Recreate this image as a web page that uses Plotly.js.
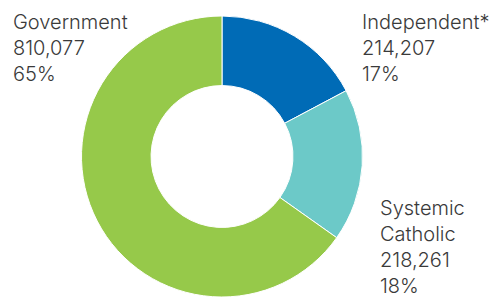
<!DOCTYPE html>
<html>
<head>
<meta charset="utf-8">
<script src="https://cdn.plot.ly/plotly-3.0.1.min.js"></script>
<style>html,body{margin:0;padding:0;background:#fff;}#chart{width:501px;height:300px;}</style>
</head>
<body>
<div id="chart"></div>
<script>
const categories = ["Independent*", "Systemic Catholic", "Government"];
const labelLines = [["Independent*"], ["Systemic", "Catholic"], ["Government"]];
const values = [214207, 218261, 810077];
const colors = ["#006bb6", "#6cc9c8", "#96c94a"];

const total = values.reduce((a, b) => a + b, 0);
const fmt = v => v.toLocaleString("en-US");
const pct = v => Math.round(v / total * 100) + "%";

const annPos = [
  {x: 360 / 501, y: 1 - 8 / 300},
  {x: 378 / 501, y: 1 - 194 / 300},
  {x: 11 / 501, y: 1 - 8 / 300}
];

const annotations = categories.map((c, i) => ({
  xref: "paper", yref: "paper",
  x: annPos[i].x, y: annPos[i].y,
  xanchor: "left", yanchor: "top", align: "left",
  showarrow: false,
  text: labelLines[i].concat([fmt(values[i]), pct(values[i])]).join("<br>"),
  font: {family: "Inter", size: 20, color: "#3a3a3a", weight: 300}
}));

const data = [{
  type: "pie",
  labels: categories,
  values: values,
  hole: 0.505,
  sort: false,
  direction: "clockwise",
  rotation: 0,
  textinfo: "none",
  hoverinfo: "label+value+percent",
  marker: {colors: colors, line: {color: "#ffffff", width: 1}},
  domain: {x: [81.5 / 501, 362.5 / 501], y: [3 / 300, 284 / 300]}
}];

const layout = {
  width: 501, height: 300,
  margin: {l: 0, r: 0, t: 0, b: 0},
  showlegend: false,
  paper_bgcolor: "#ffffff",
  annotations: annotations
};

Plotly.newPlot("chart", data, layout, {displayModeBar: false, staticPlot: true});
</script>
</body>
</html>
